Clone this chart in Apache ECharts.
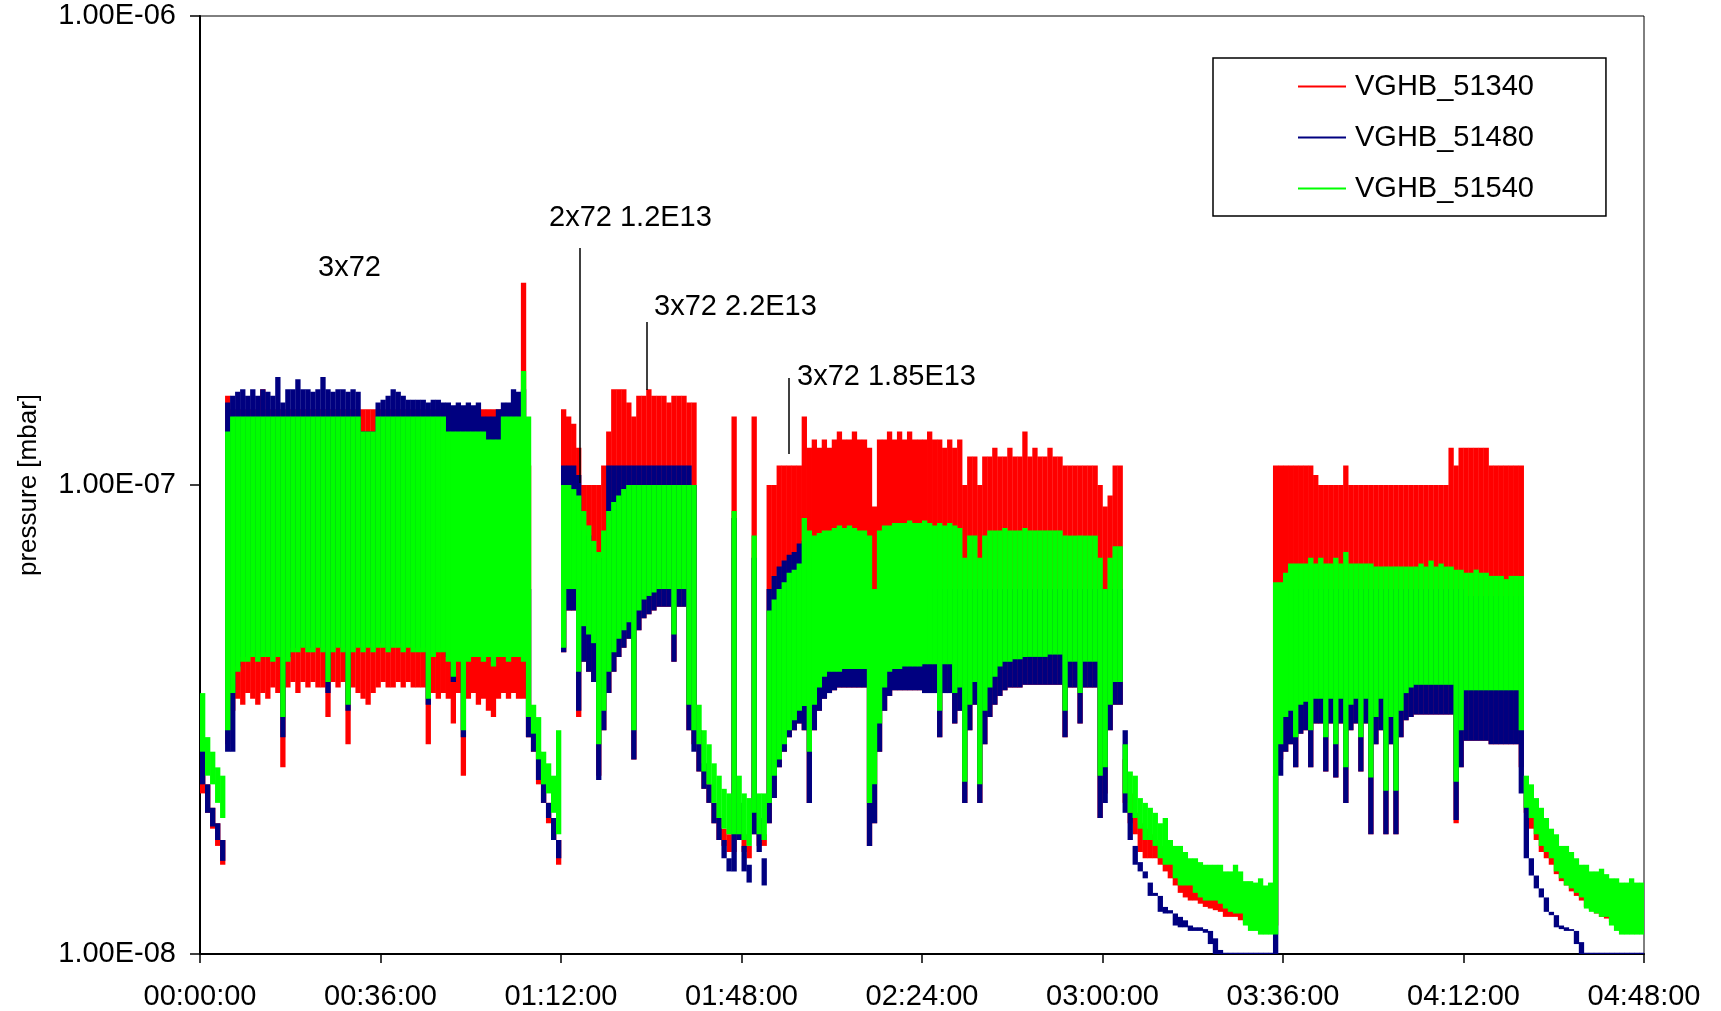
<!DOCTYPE html>
<html>
<head>
<meta charset="utf-8">
<script src="https://cdn.jsdelivr.net/npm/echarts@6/dist/echarts.min.js"></script>
<style>
html,body{margin:0;padding:0;background:#fff;}
#chart{width:1721px;height:1011px;}
</style>
</head>
<body>
<div id="chart"></div>
<script>
// Series names and colours
const seriesNames = ['VGHB_51340', 'VGHB_51480', 'VGHB_51540'];
const seriesColors = ['#FF0000', '#000080', '#00FF00'];
// Time bins: one per minute, t = 0..287 (minutes from 00:00:00)
const BIN_MINUTES = 1;
// Pressure values, in units of 1e-9 mbar (lower and upper edge of each 1-minute bin)
const UNIT = 1e-9;
const red_lo = [
22,20,18.5,17,15.5,28,33,35,34,36,35,34,
36,35,37,36,25,37,38,36,38,37,38,37,
37,32,38,37,38,28,37,36,35,34,36,37,
38,37,37,38,37,38,37,37,37,28,36,35,
36,35,31,36,24,35,36,34,35,33,32,35,
36,35,36,35,35,29,27,23,21,19,17.5,15.5,
44,54,54,32,42,40,38,24,30,36,40,43,
45,47,26,49,52,53,54,55,55,55,42,55,
55,30,28,24.5,22.5,21,19,17.5,17,16.5,16.5,17.5,
16.5,16,18,17,17,19,21.5,25,27,29,30,31,
30,21,30,33,35,36,36.5,37,37,37,37,37,
37,17,19,27,33,35.5,36.5,36.5,36.5,36.5,36.5,36.5,
36,36,36,29,36,36,31,33,21,30,34,21,
28,32,34,35.5,36.5,37,37,37,37.5,37.5,37.5,37.5,
37.5,37.5,37.5,37.5,29,37,37,31,37,37,37,19.5,
22,30,34,34,21,19,18,16.5,16,16,16,15.5,
15,14.5,14,13.5,13.2,13,13,12.8,12.6,12.5,12.4,12.3,
12,12,12,11.8,11.6,11.5,11.4,11.3,11.3,11.3,11.5,26,
27,28,25,29.5,30,25,31,31,24.5,31,23.8,31,
21,30,31,24.5,31,18,28,30,18,28,18,29,
31.5,32,32.4,32.4,32.4,32.4,32.4,32.4,32.4,32.4,19,25,
28.5,28.5,28.5,28.5,28.5,28,28,28,28,28,28,25,
20,18.5,17.5,16.5,16,15.5,14.8,14.3,14,13.6,13.3,13,
12.6,12.4,12.2,12,11.9,11.7,11.5,11.4,11.3,11.2,11.2,11.2
];
const red_hi = [
28,23,20.5,19,17.5,155,145,145,145,145,145,145,
160,145,145,145,145,145,145,145,145,145,145,145,
145,145,145,145,145,145,145,145,145,145,145,145,
145,145,145,145,145,145,145,145,145,145,145,145,
145,145,145,145,145,145,145,145,145,145,145,145,
145,145,145,145,270,110,30.5,27,23,21,19,17.5,
145,140,135,120,100,100,100,100,110,130,160,160,
160,150,140,155,155,160,155,155,155,150,155,155,
155,150,150,30,25.5,23,21,19.5,18.5,18,140,21,
18,17,140,19.5,18,100,100,110,110,110,110,110,
140,120,125,120,125,120,125,130,125,125,130,125,
125,120,90,125,125,130,125,130,125,130,125,125,
125,130,125,125,120,125,120,125,100,115,115,100,
115,115,120,115,115,120,115,115,130,115,120,115,
115,120,115,115,110,110,110,110,110,110,110,100,
90,95,110,110,26,22,20,19,18.5,18,17.5,17,
16.5,16,15.5,15,14.5,14.5,14.2,14,14,13.8,13.5,13.5,
13.2,13.2,13,13,12.8,12.6,12.6,12.5,12.5,12.5,110,110,
110,110,110,110,110,110,105,100,100,100,100,100,
110,100,100,100,100,100,100,100,100,100,100,100,
100,100,100,100,100,100,100,100,100,120,110,120,
120,120,120,120,120,110,110,110,110,110,110,110,
23,21,19.5,18.5,17.5,17,16.5,15.8,15.5,15,14.7,14.5,
14,13.8,13.6,13.4,13.2,13,12.8,12.7,12.6,12.5,12.5,12.5
];
const blue_lo = [
23,20,18.7,17.5,15.8,27,27,41,43,43,44,43,
44,44,43,44,29,43,45,45,46,45,45,46,
45,36,45,46,45,33,45,46,45,46,45,46,
46,45,46,46,45,46,45,45,45,34,44,45,
45,43,38,43,29,43,44,44,43,44,42,44,
44,43,44,44,43,29,27,23.5,21,19.5,17.5,16,
44,54,54,33,42,40,38,23.5,30,36,40,43,
45,47,26,49,52,53,54,55,55,55,42,55,
55,30,27,24.5,22.5,21,19,17.5,16,15,15,17.5,
15,14.2,18,16.5,14,19,21.5,25,27,29,30,31,
30,21,30,33,35,36,36.5,37,37,37,37,37,
37,17,19,27,33,35.5,36.5,36.5,36.5,36.5,36.5,36.5,
36,36,36,29,36,36,31,33,21,30,34,21,
28,32,34,35.5,36.5,37,37,37,37.5,37.5,37.5,37.5,
37.5,37.5,37.5,37.5,29,37,37,31,37,37,37,19.5,
21,30,34,34,20,17.5,15.5,15,14.5,13.3,13.3,12.3,
12.2,12.2,11.5,11.4,11.4,11.2,11.2,11.2,11.1,10.5,10,10,
10,10,10,10,10,10,10,10,10,10,10,24,
27,28,25,29.5,30,25,31,31,24.5,31,23.8,31,
21,30,31,24.5,31,18,28,30,18,28,18,29,
31.5,32,32.4,32.4,32.4,32.4,32.4,32.4,32.4,32.4,19.3,25,
28.5,28.5,28.5,28.5,28.5,28,28,28,28,28,28,22,
16,14.7,13.8,13.2,12.3,12.1,11.4,11.3,11.2,11.2,10.5,10,
10,10,10,10,10,10,10,10,10,10,10,10
];
const blue_hi = [
28,23,20.5,19,17.5,150,155,158,160,155,160,155,
160,158,155,170,150,160,160,168,160,160,158,160,
170,160,158,160,160,158,160,158,130,130,130,150,
152,155,160,158,155,152,152,152,152,150,152,152,
150,150,148,150,148,150,148,150,140,140,140,145,
150,150,160,158,160,60,30.5,27,23.5,21,19.5,17.5,
110,110,110,105,80,78,72,68,70,110,110,110,
110,110,110,110,110,110,110,110,110,110,110,110,
110,110,100,30,25.5,23,21,19.5,17.5,16,85,21,
17,15.5,70,19.5,16,60,64,67,69,71,72,75,
76,70,60,60,60,60,60,60,60,60,60,60,
60,60,50,60,60,60,60,60,60,60,60,60,
60,60,60,60,60,60,60,60,60,60,60,60,
60,60,60,60,60,60,60,60,60,60,60,60,
60,60,60,60,60,60,60,60,60,60,60,60,
60,60,60,60,30,20,17,15.7,15,14.2,13.5,13.3,
12.6,12.4,12.2,12,11.8,11.5,11.4,11.4,11.3,11.2,10.8,10.2,
10.05,10.05,10.05,10.05,10.05,10.05,10.05,10.05,10.05,10.05,24,55,
58,60,60,60,60,60,60,60,60,60,60,60,
60,60,60,60,60,60,60,60,60,60,60,60,
60,60,60,60,60,60,60,60,60,60,60,60,
58,58,58,58,58,58,58,58,58,58,58,58,
22,16,14.7,13.8,13.2,12.3,12.1,11.5,11.4,11.3,11.2,10.6,
10.05,10.05,10.05,10.05,10.05,10.05,10.05,10.05,10.05,10.05,10.05,10.05
];
const green_lo = [
27,24,23,21,19.5,30,36,40,42,42,43,42,
43,43,42,43,32,42,44,44,45,44,44,45,
44,38,44,45,44,34,44,45,44,45,44,45,
45,44,45,45,44,45,44,44,44,35,43,44,
44,42,39,42,30,42,43,43,42,43,41,43,
43,42,43,43,42,32,29.5,26,23,22,20,18,
45,60,60,40,50,48,46,28,33,40,44,47,
49,51,30,54,57,58,59,60,60,60,48,60,
60,34,30,28,24.5,23,21,19.5,18.5,18,18,18,
17.5,17,20,18,17.5,21,24,26,28,30,31.5,33,
33.8,27,34,37,39,40,40,40,40.5,40.5,40.5,40.5,
40.5,21,23,31,37,40,40.5,40.5,41,41,41,41,
41.5,41.5,41.5,33,41.5,41.5,36,37,23.3,34,38,23,
33,37,39,41,42,42,42.5,42.5,43,43,43,43,
43,43.5,43.5,43.5,33,42,42,36,42,42,42,24,
25,34,38,38,22,20,19.5,18.5,17.5,17.5,17,16,
15.5,15.5,14.5,14,14,14,13.5,13.2,13,13,13,12.8,
12.5,12.3,12.2,12.2,11.5,11.2,11.2,11,11,11,11,28,
32,33,29,34,34.5,30,35,35,29,35,28,35,
25,34,35,29,35,23.8,32,35,22.3,32,22.3,33,
36,37,37.5,37.5,37.5,37.5,37.5,37.5,37.5,37.5,23.3,30,
36.5,36.5,36.5,36.5,36.5,36.5,36.5,36.5,36.5,36.5,36.5,30,
20.5,19.5,18,17,16.5,16,15,14.5,14,13.8,13.5,13.2,
12.5,12.3,12.2,12,12,11.5,11.2,11,11,11,11,11
];
const green_hi = [
36,29,27,25,24,130,140,140,140,140,140,140,
140,140,140,140,140,140,140,140,140,140,140,140,
140,140,140,140,140,140,140,140,130,130,130,140,
140,140,140,140,140,140,140,140,140,140,140,140,
140,130,130,130,130,130,130,130,130,125,125,125,
140,140,140,140,175,140,34,32,27,25.5,24,30,
100,100,98,95,88,82,76,72,80,88,92,95,
98,100,100,100,100,100,100,100,100,100,100,100,
100,100,100,34,30,28,25.5,24,22.5,22,88,24,
22,21.5,78,22,22,54,57,60,62,65,66,68,
85,80,78,79,80,80,81,82,81,82,81,80,
80,78,60,80,82,82,83,83,83,84,83,83,
84,83,82,83,82,83,82,81,70,78,78,70,
78,80,80,80,81,80,80,80,81,80,80,80,
80,80,80,80,78,78,78,78,78,78,78,70,
60,70,74,74,28,24.5,24,21.5,21,20.5,20,19,
19.5,17.5,17,17,16.5,16,16,15.7,15.5,15.5,15.5,15.5,
15,15,15.5,15,14.3,14.3,14.2,14.5,14,14.2,62,62,
65,68,68,68,68,70,68,70,68,68,70,68,
72,68,68,68,68,68,67,67,67,67,67,67,
67,67,67,68,67,69,67,68,67,67,66,66,
65,65,66,65,65,64,64,64,63,64,64,64,
24,23,21.5,20.5,19.5,18.5,18,17,17,16.5,16,15.5,
15.5,15,15,15.2,14.8,14.5,14.5,14.2,14.2,14.5,14.2,14.2
];
// Axis tick labels
const xTickLabels = ['00:00:00','00:36:00','01:12:00','01:48:00','02:24:00','03:00:00','03:36:00','04:12:00','04:48:00'];
const xTickStep = 36;
const yTickLabels = ['1.00E-08','1.00E-07','1.00E-06'];
// Annotations
const annotations = ['3x72', '2x72 1.2E13', '3x72 2.2E13', '3x72 1.85E13'];

const FONT = "'Liberation Sans', Arial, sans-serif";
const FS = 29;

function buildData(lo, hi) {
  const out = [];
  for (let i = 0; i < lo.length; i++) out.push([i * BIN_MINUTES, lo[i] * UNIT, hi[i] * UNIT]);
  return out;
}
const allLo = [red_lo, blue_lo, green_lo];
const allHi = [red_hi, blue_hi, green_hi];

function makeSeries(k) {
  const color = seriesColors[k];
  return {
    name: seriesNames[k],
    type: 'custom',
    clip: true,
    itemStyle: { color: color },
    encode: { x: 0, y: [1, 2] },
    data: buildData(allLo[k], allHi[k]),
    renderItem: function (params, api) {
      const t = api.value(0), lo = api.value(1), hi = api.value(2);
      const a = api.coord([t, hi]);
      const b = api.coord([t + BIN_MINUTES, lo]);
      const h = Math.max(1.5, b[1] - a[1]);
      return {
        type: 'rect',
        shape: { x: a[0], y: a[1] - (h - (b[1] - a[1])) / 2, width: b[0] - a[0] + 0.3, height: h },
        style: { fill: color }
      };
    }
  };
}

const chart = echarts.init(document.getElementById('chart'), null, { renderer: 'canvas' });
const option = {
  animation: false,
  backgroundColor: '#ffffff',
  grid: { left: 200, right: 77, top: 16, bottom: 57, show: true, borderColor: '#000', borderWidth: 1, backgroundColor: 'transparent' },
  xAxis: {
    type: 'value', min: 0, max: 288, interval: xTickStep,
    axisLine: { show: true, onZero: false, lineStyle: { color: '#000', width: 2 } },
    axisTick: { show: true, length: 9, lineStyle: { color: '#000', width: 1.5 } },
    splitLine: { show: false },
    axisLabel: {
      color: '#000', fontFamily: FONT, fontSize: FS, margin: 28,
      formatter: function (v) { return xTickLabels[Math.round(v / xTickStep)] || ''; }
    }
  },
  yAxis: {
    type: 'log', logBase: 10, min: 1e-8, max: 1e-6,
    name: 'pressure [mbar]', nameLocation: 'middle', nameGap: 158, nameRotate: 90,
    nameTextStyle: { color: '#000', fontFamily: FONT, fontSize: 26 },
    axisLine: { show: true, lineStyle: { color: '#000', width: 2 } },
    axisTick: { show: true, length: 10, lineStyle: { color: '#000', width: 1.5 } },
    minorTick: { show: false },
    splitLine: { show: false },
    axisLabel: {
      color: '#000', fontFamily: FONT, fontSize: FS, margin: 24,
      formatter: function (v) { return yTickLabels[Math.round(Math.log10(v)) + 8] || ''; }
    }
  },
  legend: {
    orient: 'vertical', left: 1213, top: 58,
    data: seriesNames.map(function (n) { return { name: n, icon: 'rect' }; }),
    itemWidth: 48, itemHeight: 2, itemGap: 22,
    padding: [14, 72, 13, 85],
    borderColor: '#000', borderWidth: 1.5, backgroundColor: '#fff',
    selectedMode: false,
    textStyle: { color: '#000', fontFamily: FONT, fontSize: FS, padding: [0, 0, 0, 4] }
  },
  series: [makeSeries(0), makeSeries(1), makeSeries(2)],
  graphic: [
    { type: 'text', z: 100, left: 318, top: 253, style: { text: annotations[0], font: FS + 'px ' + FONT, fill: '#000' } },
    { type: 'text', z: 100, left: 549, top: 203, style: { text: annotations[1], font: FS + 'px ' + FONT, fill: '#000' } },
    { type: 'line', z: 100, shape: { x1: 580, y1: 248, x2: 580, y2: 483 }, style: { stroke: '#000', lineWidth: 1.5 } },
    { type: 'text', z: 100, left: 654, top: 292, style: { text: annotations[2], font: FS + 'px ' + FONT, fill: '#000' } },
    { type: 'line', z: 100, shape: { x1: 647, y1: 322, x2: 647, y2: 390 }, style: { stroke: '#000', lineWidth: 1.5 } },
    { type: 'text', z: 100, left: 797, top: 362, style: { text: annotations[3], font: FS + 'px ' + FONT, fill: '#000' } },
    { type: 'line', z: 100, shape: { x1: 789, y1: 378, x2: 789, y2: 454 }, style: { stroke: '#000', lineWidth: 1.5 } }
  ]
};
chart.setOption(option);
</script>
</body>
</html>
